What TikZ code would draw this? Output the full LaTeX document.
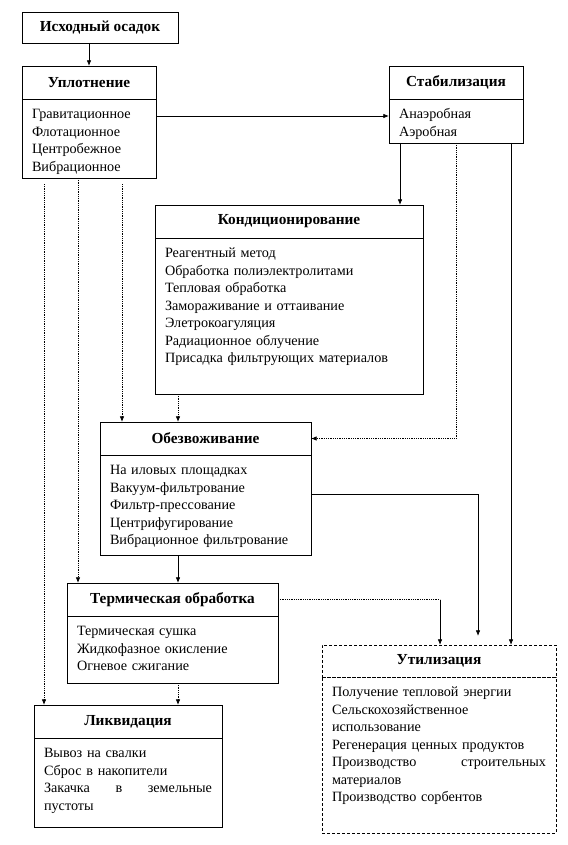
\documentclass[tikz,border=0pt]{standalone}
\usepackage{fontspec}
\setmainfont{Liberation Serif}
\usetikzlibrary{arrows.meta, positioning, calc}
\newcommand{\diafont}{\fontsize{14.2}{17.5}\selectfont}
\newcommand{\headfont}{\fontsize{15.3}{17.5}\selectfont\bfseries}
\newcommand{\boxbody}[3]{\parbox[c][#2][t]{#1}{\raggedright\spaceskip=0.33em plus 0.2em\strut #3}}
\tikzset{
  head/.style={draw, line width=0.8pt, outer sep=0pt, inner sep=2pt, minimum width=#1, minimum height=33pt, font=\headfont, fill=white, anchor=north west},
  body/.style={draw, line width=0.8pt, outer sep=0pt, inner xsep=10pt, inner ysep=7.5pt, below=0pt of #1},
  arrow/.style={-{Latex[length=2mm, width=1.6mm]}, line width=0.8pt},
  dotarrow/.style={-{Latex[length=2mm, width=1.6mm]}, line width=0.8pt, densely dotted},
  dotline/.style={line width=0.8pt, densely dotted},
  every node/.style={font=\diafont}
}

\begin{document}
\begin{tikzpicture}[x=1pt, y=1pt]
    \useasboundingbox (0,0) rectangle (567,-845);
    % process boxes
    \node[head=156pt, minimum height=31pt] (isx) at (22,-12) {Исходный осадок};
    \node[head=134pt] (upl) at (22,-66) {Уплотнение};
    \node[body=upl] (upl-body) {\boxbody{114pt}{64pt}{Гравитационное\\Флотационное\\Центробежное\\Вибрационное}};
    \node[head=134pt] (stab) at (389,-66) {Стабилизация};
    \node[body=stab] (stab-body) {\boxbody{114pt}{29pt}{Анаэробная\\Аэробная}};
    \node[head=268pt] (kond) at (155,-205) {Кондиционирование};
    \node[body=kond] (kond-body) {\boxbody{248pt}{141pt}{Реагентный метод\\Обработка полиэлектролитами\\Тепловая обработка\\Замораживание и оттаивание\\Элетрокоагуляция\\Радиационное облучение\\Присадка фильтрующих материалов}};
    \node[head=211pt] (obez) at (100,-422) {Обезвоживание};
    \node[body=obez] (obez-body) {\boxbody{191pt}{85pt}{На иловых площадках\\Вакуум-фильтрование\\Фильтр-прессование\\Центрифугирование\\Вибрационное фильтрование}};
    \node[head=211pt] (term) at (67,-583) {Термическая обработка};
    \node[body=term] (term-body) {\boxbody{191pt}{52pt}{Термическая сушка\\Жидкофазное окисление\\Огневое сжигание}};
    \node[head=188pt] (likv) at (34,-705) {Ликвидация};
    \node[body=likv] (likv-body) {\boxbody{168pt}{74pt}{Вывоз на свалки\\Сброс в накопители\\Закачка\hfill в\hfill земельные\\пустоты}};
    \node[head=234pt, minimum height=32pt, densely dashed] (util) at (322,-645) {Утилизация};
    \node[body=util, densely dashed] (util-body) {\boxbody{214pt}{141pt}{Получение тепловой энергии\\Сельскохозяйственное\\использование\\Регенерация ценных продуктов\\Производство\hfill строительных\\материалов\\Производство сорбентов}};
    % connectors
    \draw[arrow] (isx.south -| upl.north) -- (upl.north);
    \coordinate (g1) at ([yshift=-17pt]upl-body.north east);
    \draw[arrow] (g1) -- (g1 -| stab-body.west);
    \coordinate (s1) at ([xshift=11pt]stab-body.south west);
    \draw[arrow] (s1) -- (s1 |- kond.north);
    \draw[dotarrow] (stab-body.south) |- (obez.east);
    \coordinate (s2) at ([xshift=-12pt]stab-body.south east);
    \draw[arrow] (s2) -- (s2 |- util.north);
    \coordinate (u1) at ([xshift=100pt]upl-body.south west);
    \draw[dotarrow, shorten <=6pt] (u1) -- (u1 |- obez.north);
    \coordinate (u2) at ([xshift=56pt]upl-body.south west);
    \draw[dotarrow] (u2) -- (u2 |- term.north);
    \coordinate (u3) at ([xshift=22pt]upl-body.south west);
    \draw[dotarrow, shorten <=6pt] (u3) -- (u3 |- likv.north);
    \coordinate (k1) at ([xshift=23pt]kond-body.south west);
    \draw[dotarrow] (k1) -- (k1 |- obez.north);
    \coordinate (o1) at ([xshift=78pt]obez-body.south west);
    \draw[arrow] (o1) -- (o1 |- term.north);
    \coordinate (o2) at ([yshift=-39pt]obez-body.north east);
    \coordinate (t1) at ([xshift=156pt]util.north west);
    \draw[arrow, shorten >=9pt] (o2) -| (t1);
    \coordinate (t2) at ([xshift=118pt]util.north west);
    \coordinate (t2c) at (term.east -| t2);
    \draw[dotline] (term.east) -- (t2c);
    \draw[arrow] (t2c) -- (t2);
    \coordinate (h1) at ([xshift=111pt]term-body.south west);
    \draw[dotarrow] (h1) -- (h1 |- likv.north);
\end{tikzpicture}
\end{document}
